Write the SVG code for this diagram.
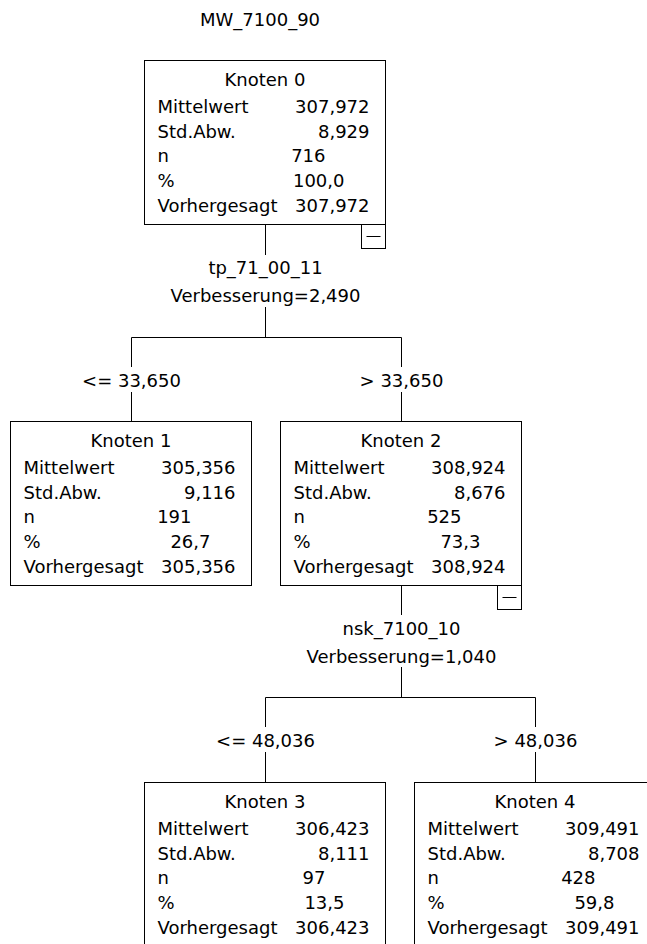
<svg xmlns="http://www.w3.org/2000/svg" width="647" height="944" viewBox="0 0 647 944">
<style>
text{font-family:"DejaVu Sans","Liberation Sans",sans-serif;font-size:18px;fill:#000}
.c{text-anchor:middle}
.e{text-anchor:end}
.box{fill:#fff;stroke:#000;stroke-width:1}
.ln{fill:none;stroke:#000;stroke-width:1}
</style>
<defs>
<g id="minus"><rect class="box" x="0" y="0" width="24" height="24"/><line class="ln" x1="5" y1="12" x2="19" y2="12"/></g>
</defs>
<rect x="0" y="0" width="647" height="944" fill="#fff"/>
<text x="200" y="26">MW_7100_90</text>
<g id="connectors">
<path class="ln" d="M265.5 224.5V255M265.5 307V337.5M131.5 337.5H401.5M131.5 337.5V367M131.5 392V421.5M401.5 337.5V367M401.5 392V421.5"/>
<path class="ln" d="M401.5 585.5V615M401.5 667V697.5M265.5 697.5H535.5M265.5 697.5V727M265.5 752V782.5M535.5 697.5V727M535.5 752V782.5"/>
<text class="c" x="265.5" y="274">tp_71_00_11</text>
<text class="c" x="265.5" y="302">Verbesserung=2,490</text>
<text class="c" x="131.5" y="386.5">&lt;= 33,650</text>
<text class="c" x="401.5" y="386.5">&gt; 33,650</text>
<text class="c" x="401.5" y="634.5">nsk_7100_10</text>
<text class="c" x="401.5" y="662.5">Verbesserung=1,040</text>
<text class="c" x="265.5" y="746.5">&lt;= 48,036</text>
<text class="c" x="535.5" y="746.5">&gt; 48,036</text>
</g>
<g id="node0" transform="translate(144.5,60.5)">
<rect class="box" width="241" height="164"/>
<use href="#minus" x="217" y="164"/>
<text class="c" x="120.5" y="25">Knoten 0</text>
<text x="13" y="52">Mittelwert</text><text class="e" x="225" y="52">307,972</text>
<text x="13" y="77">Std.Abw.</text><text class="e" x="225" y="77">8,929</text>
<text x="13" y="101.5">n</text><text class="e" x="181" y="101.5">716</text>
<text x="13" y="126.5">%</text><text class="e" x="200" y="126.5">100,0</text>
<text x="13" y="151.5">Vorhergesagt</text><text class="e" x="225" y="151.5">307,972</text>
</g>
<g id="node1" transform="translate(10.5,421.5)">
<rect class="box" width="241" height="164"/>
<text class="c" x="120.5" y="25">Knoten 1</text>
<text x="13" y="52">Mittelwert</text><text class="e" x="225" y="52">305,356</text>
<text x="13" y="77">Std.Abw.</text><text class="e" x="225" y="77">9,116</text>
<text x="13" y="101.5">n</text><text class="e" x="181" y="101.5">191</text>
<text x="13" y="126.5">%</text><text class="e" x="200" y="126.5">26,7</text>
<text x="13" y="151.5">Vorhergesagt</text><text class="e" x="225" y="151.5">305,356</text>
</g>
<g id="node2" transform="translate(280.5,421.5)">
<rect class="box" width="241" height="164"/>
<use href="#minus" x="217" y="164"/>
<text class="c" x="120.5" y="25">Knoten 2</text>
<text x="13" y="52">Mittelwert</text><text class="e" x="225" y="52">308,924</text>
<text x="13" y="77">Std.Abw.</text><text class="e" x="225" y="77">8,676</text>
<text x="13" y="101.5">n</text><text class="e" x="181" y="101.5">525</text>
<text x="13" y="126.5">%</text><text class="e" x="200" y="126.5">73,3</text>
<text x="13" y="151.5">Vorhergesagt</text><text class="e" x="225" y="151.5">308,924</text>
</g>
<g id="node3" transform="translate(144.5,782.5)">
<rect class="box" width="241" height="164"/>
<text class="c" x="120.5" y="25">Knoten 3</text>
<text x="13" y="52">Mittelwert</text><text class="e" x="225" y="52">306,423</text>
<text x="13" y="77">Std.Abw.</text><text class="e" x="225" y="77">8,111</text>
<text x="13" y="101.5">n</text><text class="e" x="181" y="101.5">97</text>
<text x="13" y="126.5">%</text><text class="e" x="200" y="126.5">13,5</text>
<text x="13" y="151.5">Vorhergesagt</text><text class="e" x="225" y="151.5">306,423</text>
</g>
<g id="node4" transform="translate(414.5,782.5)">
<rect class="box" width="241" height="164"/>
<text class="c" x="120.5" y="25">Knoten 4</text>
<text x="13" y="52">Mittelwert</text><text class="e" x="225" y="52">309,491</text>
<text x="13" y="77">Std.Abw.</text><text class="e" x="225" y="77">8,708</text>
<text x="13" y="101.5">n</text><text class="e" x="181" y="101.5">428</text>
<text x="13" y="126.5">%</text><text class="e" x="200" y="126.5">59,8</text>
<text x="13" y="151.5">Vorhergesagt</text><text class="e" x="225" y="151.5">309,491</text>
</g>
</svg>
